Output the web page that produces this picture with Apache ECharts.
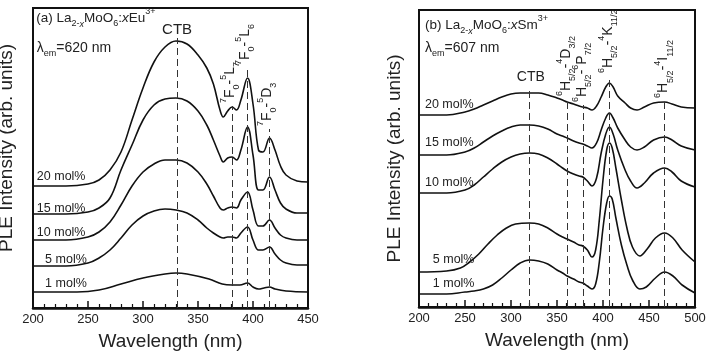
<!DOCTYPE html>
<html>
<head>
<meta charset="utf-8">
<script src="https://cdn.jsdelivr.net/npm/echarts/dist/echarts.min.js"></script>
<style>
  html, body { margin: 0; background: #fff; }
  #chart { width: 708px; height: 356px; }
</style>
</head>
<body>
<div id="chart"></div>
<script>
// (a) Eu3+ excitation spectra, [wavelength nm, intensity a.u.]
const eu20 = [[200,122],[230,122],[250,124],[260,128],[270,138],[280,156],[290,188],[300,220],[310,246],[320,261],[330,267],[340,264],[350,253],[358,240],[364,224],[370,198],[373,191],[377,197],[381,201],[385,198],[389,208],[395,230],[400,204],[405,158],[409,156],[415,170],[420,158],[425,142],[430,133],[440,127],[450,126]]
const eu15 = [[200,94],[230,94],[250,96],[260,100],[270,110],[280,138],[290,163],[300,188],[310,203],[320,209],[330,210],[340,207],[350,197],[358,183],[364,168],[370,152],[373,146],[377,150],[381,151],[385,148],[389,158],[395,181],[400,153],[405,118],[409,118],[415,131],[420,118],[425,105],[430,99],[440,95],[450,95]]
const eu10 = [[200,68],[230,68],[250,71],[260,76],[270,86],[280,103],[290,122],[300,136],[310,144],[320,148],[330,148],[340,145],[350,136],[358,124],[364,112],[370,100],[373,98],[377,100],[381,101],[385,100],[389,108],[395,116],[400,98],[405,82],[409,82],[415,88],[420,80],[425,73],[430,70],[440,68],[450,68]]
const eu5 = [[200,42],[230,42],[250,45],[260,50],[270,58],[280,70],[290,83],[300,92],[310,97],[320,99],[330,98],[340,95],[350,88],[358,80],[364,75],[370,71],[373,70],[377,71],[381,71],[385,70],[389,75],[395,81],[400,68],[405,58],[409,58],[415,61],[420,54],[425,48],[430,45],[440,43],[450,43]]
const eu1 = [[200,16],[240,16],[260,18],[280,24],[300,30],[320,34],[330,35],[340,34],[360,29],[372,24],[381,23],[388,23],[395,25],[400,21],[405,19],[410,20],[415,21],[420,19],[430,17],[450,16]]

// (b) Sm3+ excitation spectra
const sm20 = [[200,192],[230,192],[250,195],[260,198],[270,202],[280,206],[290,210],[300,213],[310,214],[320,214],[330,214],[340,212],[350,209],[356,207],[361,205],[368,203],[374,201],[378,200],[383,199],[388,197],[393,201],[398,210],[403,220],[407,224],[411,220],[416,211],[424,204],[430,199],[437,197],[445,200],[455,204],[467,205],[475,203],[485,200],[500,199]]
const sm15 = [[200,152],[230,152],[250,155],[260,159],[270,165],[280,171],[290,176],[300,180],[310,182],[320,182],[330,181],[340,178],[350,173],[356,171],[361,169],[368,166],[374,164],[378,163],[383,161],[388,159],[393,164],[398,177],[403,189],[407,194],[411,189],[416,179],[424,167],[430,160],[437,157],[445,160],[455,167],[467,170],[475,167],[485,161],[500,157]]
const sm10 = [[200,114],[230,114],[250,117],[260,122],[270,130],[280,138],[290,145],[300,150],[310,153],[320,154],[330,153],[340,149],[350,143],[356,139],[361,136],[368,133],[374,131],[378,130],[383,126],[388,121],[393,129],[398,154],[403,173],[407,180],[411,173],[416,157],[424,137],[430,126],[437,119],[445,124],[455,134],[467,139],[475,135],[485,126],[500,120]]
const sm5 = [[200,35],[230,36],[245,39],[255,45],[265,53],[275,63],[285,72],[295,79],[305,83],[320,84],[330,83],[340,79],[350,73],[356,70],[361,68],[368,65],[374,62],[378,61],[383,57],[388,50],[392,57],[396,87],[400,127],[404,157],[407,164],[410,159],[414,139],[420,107],[426,79],[432,60],[440,51],[448,58],[457,69],[467,74],[476,69],[486,57],[500,45]]
const sm1 = [[200,13],[230,13],[250,15],[260,16],[270,18],[280,22],[290,29],[300,37],[310,44],[320,47],[330,46],[340,43],[350,37],[356,34],[361,31],[368,28],[374,25],[378,24],[383,21],[388,18],[392,23],[396,45],[400,79],[404,104],[407,111],[410,108],[414,89],[420,62],[426,42],[432,27],[440,18],[447,20],[457,29],[467,35],[476,31],[486,22],[500,14]]

const concLabels = ['20 mol%', '15 mol%', '10 mol%', '5 mol%', '1 mol%']

// assignment lines: wavelength and the height the dashed line reaches
const euLines = [331, 381, 395, 415]
const euLineTops = [270, 202, 240, 179]
const smLines = [320, 361, 378, 407, 467]
const smLineTops = [220, 208, 202, 231, 206]

const xTicksA = { min: 200, max: 450, interval: 50 }
const xTicksB = { min: 200, max: 500, interval: 50 }

const FONT = '"Liberation Sans", Arial, sans-serif'
const INK = '#111'
const TXT = '#222'

const chart = echarts.init(document.getElementById('chart'))

function xAxis (grid, ticks) {
  return {
    gridIndex: grid,
    type: 'value',
    ...ticks,
    name: 'Wavelength (nm)',
    nameLocation: 'middle',
    nameGap: 24,
    nameTextStyle: { fontSize: 19, color: TXT, fontFamily: FONT },
    axisLine: { lineStyle: { color: INK, width: 2.5 } },
    axisTick: { inside: true, length: 7, lineStyle: { color: INK, width: 1.5 } },
    minorTick: { show: true, splitNumber: 5, length: 4, lineStyle: { color: INK, width: 1.2 } },
    splitLine: { show: false },
    axisLabel: { fontSize: 13, color: TXT, fontFamily: FONT, margin: 5 }
  }
}

function yAxis (grid, max, gap, pad) {
  return {
    gridIndex: grid,
    type: 'value',
    min: 0,
    max: max,
    name: 'PLE Intensity (arb. units)',
    nameLocation: 'middle',
    nameGap: gap,
    nameTextStyle: { fontSize: 19, color: TXT, fontFamily: FONT, padding: pad },
    axisLine: { show: false },
    axisTick: { show: false },
    axisLabel: { show: false },
    splitLine: { show: false }
  }
}

function curve (grid, data, lines, tops) {
  const s = {
    type: 'line',
    xAxisIndex: grid,
    yAxisIndex: grid,
    data: data,
    smooth: 0.4,
    symbol: 'none',
    silent: true,
    lineStyle: { color: INK, width: 1.6 }
  }
  if (lines) {
    s.markLine = {
      silent: true,
      symbol: ['none', 'none'],
      label: { show: false },
      lineStyle: { type: [7, 4], color: '#333', width: 1 },
      data: lines.map((nm, i) => [{ coord: [nm, 0] }, { coord: [nm, tops[i]] }])
    }
  }
  return s
}

chart.setOption({
  animation: false,
  backgroundColor: '#fff',
  grid: [
    { left: 33, top: 8, width: 275, height: 300, show: true, borderColor: INK, borderWidth: 2, outerBoundsMode: 'none' },
    { left: 419, top: 10, width: 276, height: 297, show: true, borderColor: INK, borderWidth: 2, outerBoundsMode: 'none' }
  ],
  xAxis: [xAxis(0, xTicksA), xAxis(1, xTicksB)],
  yAxis: [yAxis(0, 300, 17, [0, 0, 0, 20]), yAxis(1, 297, 15, 0)],
  series: [
    curve(0, eu20), curve(0, eu15), curve(0, eu10), curve(0, eu5), curve(0, eu1, euLines, euLineTops),
    curve(1, sm20), curve(1, sm15), curve(1, sm10), curve(1, sm5), curve(1, sm1, smLines, smLineTops)
  ]
})

/** rich text styles with sub/superscripts */
function richSet (size, line) {
  const s = Math.round(size * 0.64)
  const base = { fill: TXT, fontFamily: FONT }
  return {
    n: { ...base, fontSize: size, lineHeight: line },
    i: { ...base, fontSize: size, lineHeight: line, fontStyle: 'italic' },
    b: { ...base, fontSize: s, lineHeight: s + 1, verticalAlign: 'bottom' },
    bi: { ...base, fontSize: s, lineHeight: s + 1, verticalAlign: 'bottom', fontStyle: 'italic' },
    t: { ...base, fontSize: s, lineHeight: s + 1, verticalAlign: 'top' }
  }
}

const notes = []
function note (grid, at, str, opt = {}) {
  const p = chart.convertToPixel({ gridIndex: grid }, at)
  notes.push({
    type: 'text',
    x: p[0] + (opt.dx || 0),
    y: p[1] + (opt.dy || 0),
    rotation: opt.rotate ? Math.PI / 2 : 0,
    z: 100,
    silent: true,
    style: {
      text: str,
      rich: richSet(opt.size || 13, opt.line || 20),
      fill: TXT,
      fontSize: opt.size || 13,
      fontFamily: FONT,
      align: opt.align || 'left',
      verticalAlign: 'middle'
    }
  })
}

// panel (a)
note(0, [203, 290], '{n|(a) La}{b|2-}{bi|x}{n|MoO}{b|6}{n|:}{i|x}{n|Eu}{t|3+}', { size: 13.5, line: 21 })
note(0, [203.5, 260], '{n|λ}{b|em}{n|=620 nm}', { size: 14, line: 21 })
note(0, [331, 278], '{n|CTB}', { align: 'center', size: 15 })
const euNames = [
  '{t|7}{n|F}{b|0}{n|-}{t|5}{n|L}{b|7}',
  '{t|7}{n|F}{b|0}{n|-}{t|5}{n|L}{b|6}',
  '{t|7}{n|F}{b|0}{n|-}{t|5}{n|D}{b|3}'
]
euNames.forEach((s, i) => {
  note(0, [euLines[i + 1], euLineTops[i + 1]], s, { rotate: true, size: 14, line: 22, dy: -3, dx: -2 })
})
const euLabelAt = [[203.5, 131], [203.5, 99], [203.5, 75], [211, 48], [211, 24]]
concLabels.forEach((s, i) => note(0, euLabelAt[i], '{n|' + s + '}', { size: 12.5 }))

// panel (b)
note(1, [206.5, 282], '{n|(b) La}{b|2-}{bi|x}{n|MoO}{b|6}{n|:}{i|x}{n|Sm}{t|3+}', { size: 13.5, line: 21 })
note(1, [206.5, 259], '{n|λ}{b|em}{n|=607 nm}', { size: 14, line: 21 })
note(1, [321.5, 230], '{n|CTB}', { align: 'center', size: 14 })
const smNames = [
  '{t|6}{n|H}{b|5/2}{n|-}{t|4}{n|D}{b|3/2}',
  '{t|6}{n|H}{b|5/2}{n|-}{t|6}{n|P}{b|7/2}',
  '{t|6}{n|H}{b|5/2}{n|-}{t|4}{n|K}{b|11/2}',
  '{t|6}{n|H}{b|5/2}{n|-}{t|4}{n|I}{b|11/2}'
]
smNames.forEach((s, i) => {
  note(1, [smLines[i + 1], smLineTops[i + 1]], s, { rotate: true, size: 14, line: 22, dy: -3, dx: -1 })
})
const smLabelAt = [[206.5, 202], [206.5, 164], [206.5, 124], [215, 47], [215, 23]]
concLabels.forEach((s, i) => note(1, smLabelAt[i], '{n|' + s + '}', { size: 12.5 }))

chart.setOption({ graphic: notes })
</script>
</body>
</html>
